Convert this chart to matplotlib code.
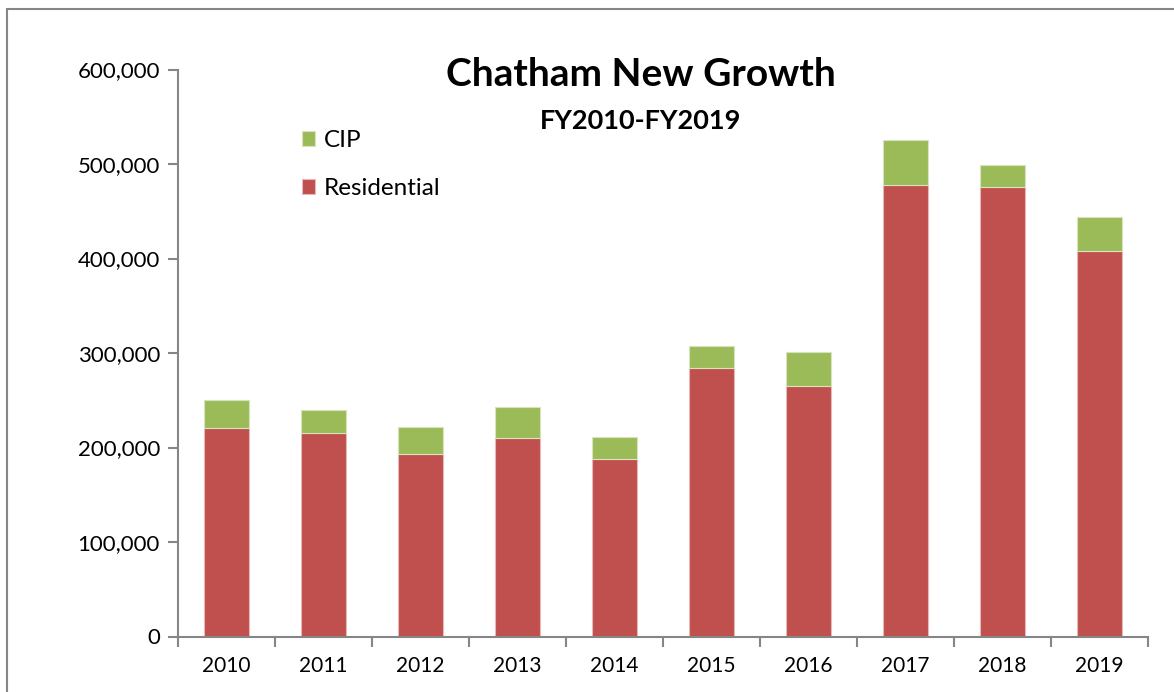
import matplotlib.pyplot as plt
from matplotlib.patches import Rectangle
from matplotlib.ticker import FuncFormatter

years = ["2010", "2011", "2012", "2013", "2014", "2015", "2016", "2017", "2018", "2019"]
residential = [221000, 215000, 193400, 210400, 187800, 283600, 265400, 477800, 476000, 408300]
cip = [29300, 24400, 28300, 32500, 23800, 23600, 35900, 47200, 23000, 36000]

red = "#C0504D"
green = "#9BBB59"
grey = "#868686"

plt.rcParams["font.family"] = ["Lato", "DejaVu Sans"]

fig = plt.figure(figsize=(11.74, 6.92), dpi=100)

# outer chart frame
fig.patches.append(Rectangle((7 / 1174, -0.05), 1.2, 1 - 9 / 692 + 0.05,
                             transform=fig.transFigure, fill=False,
                             edgecolor=grey, linewidth=1.5))

ax = fig.add_axes([178 / 1174, 1 - 636.5 / 692, (1148 - 178) / 1174, (636.5 - 69.5) / 692])

x = range(len(years))
ax.bar(x, residential, width=0.455, color=red, edgecolor="#E6B9B8",
       linewidth=0.8, label="Residential")
ax.bar(x, cip, width=0.455, bottom=residential, color=green,
       edgecolor="#D7E4BD", linewidth=0.8, label="CIP")

ax.set_xlim(-0.5, len(years) - 0.5)
ax.set_ylim(0, 600000)
ax.set_yticks(range(0, 600001, 100000))
ax.yaxis.set_major_formatter(FuncFormatter(lambda v, p: f"{int(v):,}"))

# labels at centers, tick marks at category boundaries
ax.set_xticks(list(x))
ax.set_xticklabels(years)
ax.tick_params(axis="x", length=0, pad=14, labelsize=15)
ax.set_xticks([i - 0.5 for i in range(len(years) + 1)], minor=True)
ax.tick_params(axis="x", which="minor", length=7, width=1.5, color=grey)
ax.tick_params(axis="y", length=7, width=1.5, color=grey, labelsize=16, pad=6)

for side in ["top", "right"]:
    ax.spines[side].set_visible(False)
for side in ["left", "bottom"]:
    ax.spines[side].set_color(grey)
    ax.spines[side].set_linewidth(1.5)

handles, labels = ax.get_legend_handles_labels()
ax.legend(handles[::-1], labels[::-1], loc="upper left",
          bbox_to_anchor=(0.105, 0.932), frameon=False, fontsize=17.5,
          handlelength=0.55, handleheight=0.55, handletextpad=0.35,
          labelspacing=1.12)

fig.text(641 / 1174, 1 - 75 / 692, "Chatham New Growth", ha="center",
         va="center", fontsize=28, fontweight="bold")
fig.text(641 / 1174, 1 - 121 / 692, "FY2010-FY2019", ha="center",
         va="center", fontsize=19.5, fontweight="bold")

plt.savefig("out.png", dpi=100)
